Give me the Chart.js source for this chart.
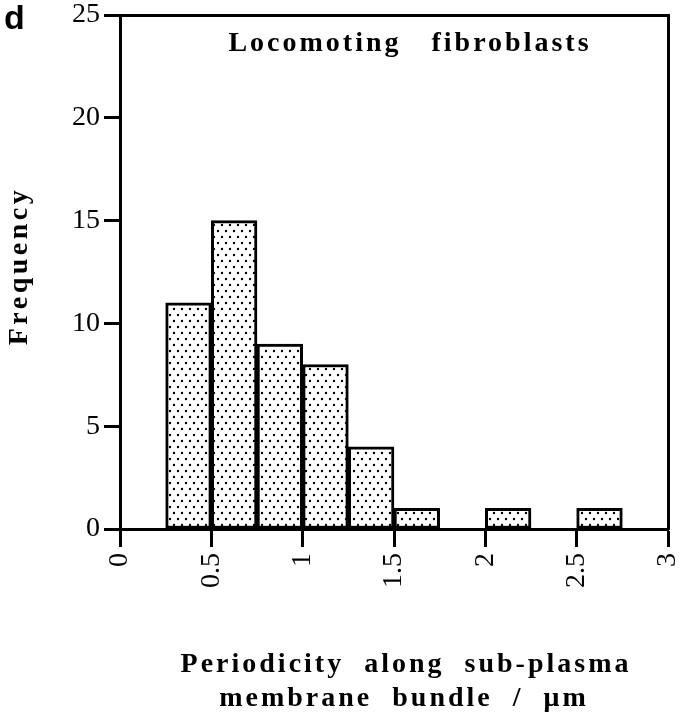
<!DOCTYPE html>
<html>
<head>
<meta charset="utf-8">
<script src="https://cdn.jsdelivr.net/npm/chart.js@4"></script>
<style>
  html, body { margin: 0; padding: 0; background: #fff; }
  #wrap { position: relative; width: 689px; height: 719px; }
  #panel { position: absolute; left: 4px; top: -2px; font: bold 34px "Liberation Sans", Arial, sans-serif; color: #000; }
</style>
</head>
<body>
<div id="wrap">
  <canvas id="chart" width="689" height="719"></canvas>
  <div id="panel">d</div>
</div>
<script>
// Histogram: periodicity along sub-plasma membrane bundle (um)
const binStarts = [0.25, 0.5, 0.75, 1.0, 1.25, 1.5, 1.75, 2.0, 2.25, 2.5];
const binWidth = 0.25;
const frequencies = [11, 15, 9, 8, 4, 1, 0, 1, 0, 1];
const yTicks = [0, 5, 10, 15, 20, 25];

const plotTitle = 'Locomoting   fibroblasts';
const yTitle = 'Frequency';
const xTitle = ['Periodicity  along  sub-plasma', 'membrane  bundle  /  \u03bcm'];

const serif = '"Liberation Serif", "DejaVu Serif", serif';

// dotted stipple fill like the printed figure
function dotPattern() {
  const c = document.createElement('canvas');
  c.width = 8;
  c.height = 12;
  const g = c.getContext('2d');
  g.fillStyle = '#fff';
  g.fillRect(0, 0, 8, 12);
  g.fillStyle = '#000';
  [[2, 3], [6, 9]].forEach(([x, y]) => {
    g.beginPath();
    g.arc(x, y, 1.2, 0, Math.PI * 2);
    g.fill();
  });
  return g.createPattern(c, 'repeat');
}

const ctx = document.getElementById('chart').getContext('2d');

// titles drawn by hand so they can get the wide letter spacing of the original
const titlesPlugin = {
  id: 'titles',
  afterDraw(chart) {
    const { ctx, chartArea } = chart;
    ctx.save();
    ctx.fillStyle = '#000';
    ctx.textAlign = 'center';
    ctx.textBaseline = 'middle';

    ctx.font = 'bold 28px ' + serif;
    ctx.letterSpacing = '3px';
    ctx.fillText(plotTitle, 410, chartArea.top + 29);

    ctx.fillText(xTitle[0], 406, 665);
    ctx.fillText(xTitle[1], 404, 699);

    ctx.letterSpacing = '3.5px';
    ctx.translate(20, 266);
    ctx.rotate(-Math.PI / 2);
    ctx.fillText(yTitle, 0, 0);
    ctx.restore();
  },
};

// keep the edge labels from shrinking the plot area
function noEdgePadding(scale) {
  scale.paddingLeft = 0;
  scale.paddingRight = 0;
  scale.paddingTop = 0;
  scale.paddingBottom = 0;
}

new Chart(ctx, {
  type: 'bar',
  data: {
    datasets: [{
      data: binStarts.map((s, i) => ({ x: s + binWidth / 2, y: frequencies[i] })),
      backgroundColor: dotPattern(),
      borderColor: '#000',
      borderWidth: 3,
      borderSkipped: false,
      barPercentage: 1,
      categoryPercentage: 1,
    }],
  },
  options: {
    responsive: false,
    animation: false,
    layout: { padding: 0 },
    plugins: {
      legend: { display: false },
      tooltip: { enabled: false },
    },
    scales: {
      x: {
        type: 'linear',
        position: 'bottom',
        offset: false,
        min: 0,
        max: 3,
        afterFit: (scale) => { scale.height = 190; noEdgePadding(scale); },
        ticks: {
          stepSize: 0.5,
          minRotation: 90,
          maxRotation: 90,
          padding: 6,
          color: '#000',
          font: { family: serif, size: 28 },
          callback: (v) => String(v),
        },
        grid: { offset: false, drawOnChartArea: false, drawTicks: true, tickLength: 18, tickWidth: 3, tickColor: '#000' },
        border: { width: 3, color: '#000' },
      },
      y: {
        min: 0,
        max: 25,
        afterFit: (scale) => { scale.width = 120; noEdgePadding(scale); },
        afterBuildTicks: (scale) => { scale.ticks = yTicks.map((v) => ({ value: v })); },
        ticks: {
          padding: 4,
          color: '#000',
          font: { family: serif, size: 28 },
        },
        grid: { drawOnChartArea: false, drawTicks: true, tickLength: 16, tickWidth: 3, tickColor: '#000' },
        border: { width: 3, color: '#000' },
      },
      xTop: {
        type: 'linear',
        position: 'top',
        offset: false,
        min: 0,
        max: 3,
        afterFit: (scale) => { scale.height = 15; noEdgePadding(scale); },
        ticks: { display: false },
        grid: { offset: false, drawOnChartArea: false, drawTicks: false },
        border: { width: 3, color: '#000' },
      },
      yRight: {
        position: 'right',
        min: 0,
        max: 25,
        afterFit: (scale) => { scale.width = 21; noEdgePadding(scale); },
        ticks: { display: false },
        grid: { drawOnChartArea: false, drawTicks: false },
        border: { width: 3, color: '#000' },
      },
    },
  },
  plugins: [titlesPlugin],
});
</script>
</body>
</html>
